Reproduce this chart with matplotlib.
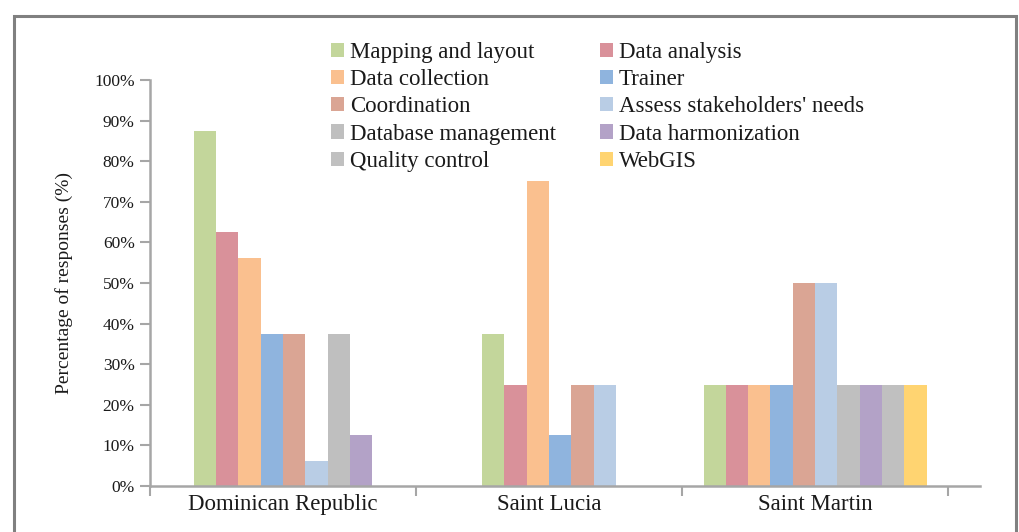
import numpy as np
import matplotlib
matplotlib.use('Agg')
import matplotlib.pyplot as plt
from matplotlib.patches import Patch, Rectangle
from matplotlib.ticker import FuncFormatter

plt.rcParams['font.family'] = ['Liberation Serif', 'DejaVu Serif']

# survey data: share of responses per role, by island
countries = ['Dominican Republic', 'Saint Lucia', 'Saint Martin']
roles = ['Mapping and layout', 'Data analysis', 'Data collection', 'Trainer',
         'Coordination', "Assess stakeholders' needs", 'Database management',
         'Data harmonization', 'Quality control', 'WebGIS']
role_colors = ['#c3d69b', '#d9919a', '#fac08f', '#8fb4de', '#daa594',
               '#b9cde5', '#bfbfbf', '#b3a2c7', '#c0c0c0', '#ffd471']
dominican = [87.5, 62.5, 56.25, 37.5, 37.5, 6.25, 37.5, 12.5, 0, 0]
saint_lucia = [37.5, 25, 75, 12.5, 25, 25, 0, 0, 0, 0]
saint_martin = [25, 25, 25, 25, 50, 50, 25, 25, 25, 25]
yticks = np.arange(0, 101, 10)

values = [dominican, saint_lucia, saint_martin]
axis_grey = '#a6a6a6'
text_col = '#1a1a1a'

fig = plt.figure(figsize=(10.19, 5.32), dpi=100)
W, H = 1019, 532
ax = fig.add_axes([150 / W, (H - 486) / H, (980 - 150) / W, (486 - 80) / H])

bw = 0.0838
for i, vals in enumerate(values):
    # only roles that got answers are drawn, packed around the category centre
    idx = [k for k, v in enumerate(vals) if v > 0]
    start = i - bw * len(idx) / 2
    for j, k in enumerate(idx):
        ax.bar(start + bw * (j + 0.5), vals[k], width=bw, color=role_colors[k],
               edgecolor='none')

ax.set_xlim(-0.5, 2.62)
ax.set_ylim(0, 100)
ax.set_yticks(yticks)
ax.yaxis.set_major_formatter(FuncFormatter(lambda v, p: f'{v:.0f}%'))
ax.tick_params(axis='y', direction='out', length=7, width=1.5, color=axis_grey,
               labelsize=12.5, labelcolor=text_col, pad=4)

ax.set_xticks([-0.5, 0.5, 1.5, 2.5])
ax.set_xticklabels([])
ax.tick_params(axis='x', which='major', direction='out', length=7, width=1.5,
               color=axis_grey)
ax.set_xticks([0, 1, 2], minor=True)
ax.set_xticklabels(countries, minor=True, fontsize=16.5, color=text_col)
ax.tick_params(axis='x', which='minor', length=0, pad=6)

for side in ['top', 'right']:
    ax.spines[side].set_visible(False)
for side in ['left', 'bottom']:
    ax.spines[side].set_color(axis_grey)
    ax.spines[side].set_linewidth(1.8)

ax.set_ylabel('Percentage of responses (%)', fontsize=14, color=text_col,
              labelpad=15)

order = [0, 2, 4, 6, 8, 1, 3, 5, 7, 9]
handles = [Patch(facecolor=role_colors[k], edgecolor='none', label=roles[k])
           for k in order]
fig.legend(handles=handles, ncol=2, loc='upper left',
           bbox_to_anchor=(331 / W, 1 - 42 / H), frameon=False, fontsize=16.5,
           handlelength=0.58, handleheight=0.58, handletextpad=0.25,
           labelspacing=0.27, columnspacing=1.9, borderpad=0,
           borderaxespad=0, labelcolor=text_col)

# grey frame around the figure
fig.patches.append(Rectangle((14 / W, -0.05), (1016 - 14) / W, 1.05 - 16 / H,
                             transform=fig.transFigure, fill=False,
                             edgecolor='#808080', linewidth=2.2))

fig.savefig('out.png', dpi=100)
